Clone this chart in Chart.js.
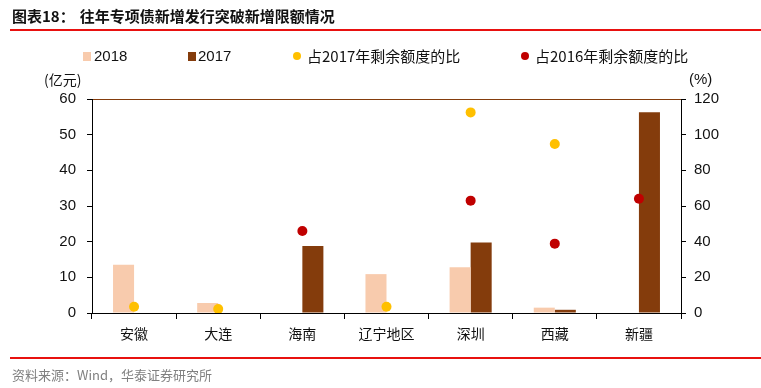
<!DOCTYPE html>
<html>
<head>
<meta charset="utf-8">
<script src="https://cdn.jsdelivr.net/npm/chart.js@4"></script>
<style>
  html, body { margin: 0; padding: 0; background: #fff; }
  #wrap { position: relative; width: 761px; height: 388px; overflow: hidden; background: #fff; }
  #c { position: absolute; left: 0; top: 0; }
  .abs { position: absolute; white-space: nowrap; }
  .cjk { font-family: "Noto Sans CJK SC", "Noto Sans", sans-serif; }
  .lat { font-family: "Liberation Sans", Arial, sans-serif; }
</style>
</head>
<body>
<div id="wrap">
  <canvas id="c" width="761" height="388"></canvas>
  <div class="abs cjk" id="title" style="left:12px; top:5px; font-size:15px; font-weight:bold; line-height:22px; color:#111;"></div>
  <div class="abs" style="left:10px; top:29px; width:751px; height:2px; background:#E8110F;"></div>
  <div class="abs" style="left:10px; top:357px; width:751px; height:2px; background:#E8110F;"></div>
  <div class="abs cjk" id="source" style="left:12px; top:366px; font-size:13px; line-height:18px; color:#808080;"></div>
  <div class="abs cjk" id="yTitleL" style="left:44px; top:69px; font-size:14px; line-height:20px; color:#111;"></div>
  <div class="abs lat" id="yTitleR" style="left:689px; top:69px; font-size:15px; line-height:20px; color:#111;"></div>
  <div id="legend"></div>
</div>
<script>
// ---- data ----
const categories = ['安徽', '大连', '海南', '辽宁地区', '深圳', '西藏', '新疆'];
const values2018 = [13.5, 2.8, null, 10.9, 12.8, 1.5, null];
const values2017 = [null, null, 18.8, null, 19.8, 0.9, 56.3];
const share2017 = [3.5, 2.2, null, 3.5, 112.5, 94.8, null];
const share2016 = [null, null, 46.0, null, 63.0, 38.9, 64.1];
const seriesLabels = ['2018', '2017', '占2017年剩余额度的比', '占2016年剩余额度的比'];
const leftTicks = [0, 10, 20, 30, 40, 50, 60];
const rightTicks = [0, 20, 40, 60, 80, 100, 120];
const titleText = '图表18：';
const titleRest = '往年专项债新增发行突破新增限额情况';
const sourceText = '资料来源：Wind，华泰证券研究所';
const leftUnit = '(亿元)';
const rightUnit = '(%)';

const colors = ['#F8CBAD', '#843C0C', '#FFC000', '#C00000'];

document.getElementById('title').innerHTML = titleText + '<span style="margin-left:5px">' + titleRest + '</span>';
document.getElementById('source').textContent = sourceText;
document.getElementById('yTitleL').textContent = leftUnit;
document.getElementById('yTitleR').textContent = rightUnit;

// ---- legend (HTML) ----
const legendPos = [
  { mx: 83, tx: 94, shape: 'sq' },
  { mx: 188, tx: 198, shape: 'sq' },
  { mx: 293, tx: 307, shape: 'dot' },
  { mx: 521, tx: 535, shape: 'dot' }
];
const leg = document.getElementById('legend');
legendPos.forEach((p, i) => {
  const m = document.createElement('div');
  m.className = 'abs';
  if (p.shape === 'sq') {
    m.style.cssText = `left:${p.mx}px; top:52px; width:8px; height:9px; background:${colors[i]};`;
  } else {
    m.style.cssText = `left:${p.mx}px; top:52px; width:8px; height:8px; border-radius:50%; background:${colors[i]};`;
  }
  leg.appendChild(m);
  const t = document.createElement('div');
  t.className = 'abs ' + (i < 2 ? 'lat' : 'cjk');
  t.style.cssText += `left:${p.tx}px; top:45px; font-size:15px; line-height:22px; color:#111;`;
  t.textContent = seriesLabels[i];
  leg.appendChild(t);
});

// ---- chart ----
new Chart(document.getElementById('c'), {
  data: {
    labels: categories,
    datasets: [
      { type: 'line', label: seriesLabels[2], data: share2017, yAxisID: 'y1', showLine: false,
        pointRadius: 5, pointHoverRadius: 5, pointBackgroundColor: colors[2], pointBorderWidth: 0, borderColor: colors[2], order: 0 },
      { type: 'line', label: seriesLabels[3], data: share2016, yAxisID: 'y1', showLine: false,
        pointRadius: 5, pointHoverRadius: 5, pointBackgroundColor: colors[3], pointBorderWidth: 0, borderColor: colors[3], order: 0 },
      { type: 'bar', label: seriesLabels[0], data: values2018, yAxisID: 'y', backgroundColor: colors[0],
        categoryPercentage: 0.5, barPercentage: 1.0, order: 1 },
      { type: 'bar', label: seriesLabels[1], data: values2017, yAxisID: 'y', backgroundColor: colors[1],
        categoryPercentage: 0.5, barPercentage: 1.0, order: 1 }
    ]
  },
  options: {
    responsive: false,
    devicePixelRatio: 1,
    animation: false,
    events: [],
    layout: { padding: { top: 99, bottom: 0, left: 0, right: 0 } },
    plugins: { legend: { display: false }, tooltip: { enabled: false } },
    scales: {
      x: {
        offset: true,
        grid: { display: true, offset: true, drawOnChartArea: false, tickLength: 6, color: '#000', tickColor: '#000' },
        border: { display: true, color: '#000', width: 1 },
        ticks: { padding: 6, color: '#111', font: { family: '"Noto Sans CJK SC", sans-serif', size: 14 }, maxRotation: 0, autoSkip: false },
        afterFit: s => { s.height = 75; }
      },
      y: {
        position: 'left',
        min: 0, max: 60,
        afterBuildTicks: s => { s.ticks = leftTicks.map(v => ({ value: v })); },
        grid: { display: true, drawOnChartArea: true, tickLength: 5,
          color: ctx => (ctx.tick && ctx.tick.value === 60) ? '#843C0C' : 'rgba(0,0,0,0)',
          tickColor: '#000' },
        border: { display: true, color: '#000', width: 1 },
        ticks: { padding: 11, color: '#111', font: { family: '"Liberation Sans", Arial, sans-serif', size: 15 } },
        afterFit: s => { s.width = 92; }
      },
      y1: {
        position: 'right',
        min: 0, max: 120,
        afterBuildTicks: s => { s.ticks = rightTicks.map(v => ({ value: v })); },
        grid: { display: true, drawOnChartArea: false, tickLength: 5, color: '#000', tickColor: '#000' },
        border: { display: true, color: '#000', width: 1 },
        ticks: { padding: 8, color: '#111', font: { family: '"Liberation Sans", Arial, sans-serif', size: 15 } },
        afterFit: s => { s.width = 80; }
      }
    }
  }
});
</script>
</body>
</html>
